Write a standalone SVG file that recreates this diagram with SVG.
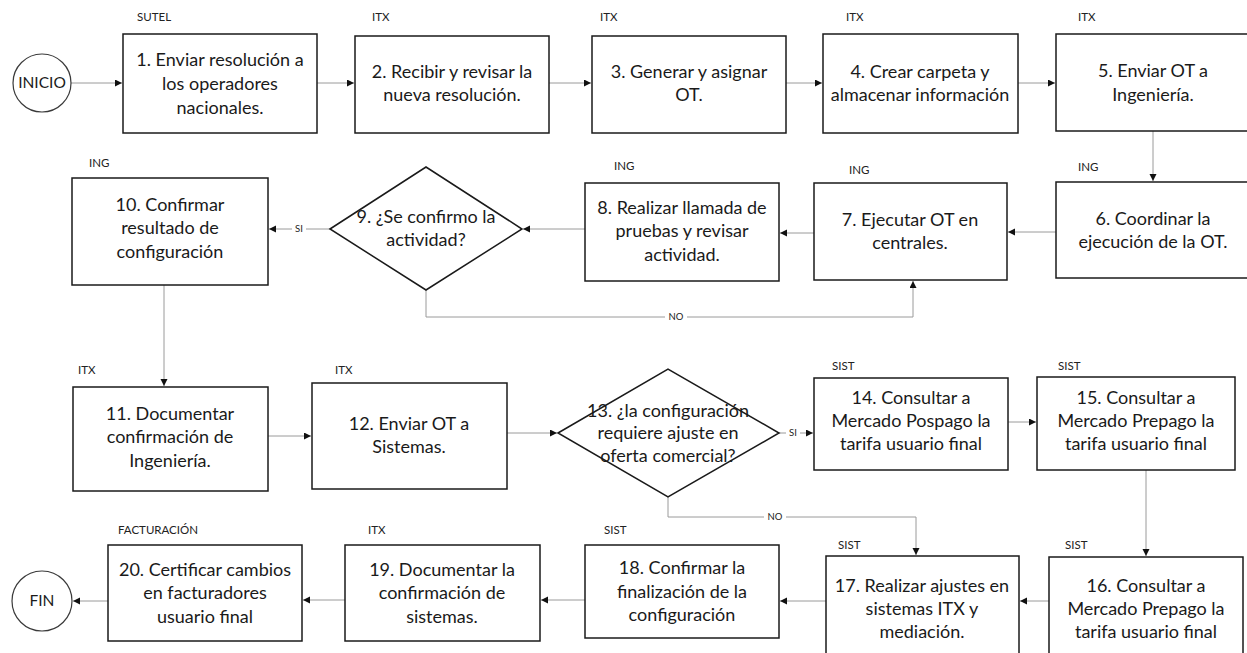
<svg xmlns="http://www.w3.org/2000/svg" width="1247" height="653" viewBox="0 0 1247 653">
  <defs>
    <style>
      .box { fill: #ffffff; stroke: #1a1a1a; stroke-width: 1.5; }
      .term { fill: #ffffff; stroke: #3a3a3a; stroke-width: 1.2; }
      .t { font-family: Lato, "Open Sans", "Liberation Sans", sans-serif; font-size: 18px; fill: #1a1a1a; text-anchor: middle; }
      .tt { font-family: Lato, "Open Sans", "Liberation Sans", sans-serif; font-size: 15.5px; fill: #1a1a1a; text-anchor: middle; }
      .lane { font-family: Lato, "Open Sans", "Liberation Sans", sans-serif; font-size: 11.5px; fill: #222; }
      .edge { fill: none; stroke: #9a9a9a; stroke-width: 1; }
      .elbl { font-family: Lato, "Liberation Sans", sans-serif; font-size: 9.5px; fill: #222; text-anchor: middle; }
      .bg { fill: #ffffff; }
    </style>
    <marker id="arrow" markerUnits="userSpaceOnUse" markerWidth="8" markerHeight="8" refX="7" refY="3.5" orient="auto">
      <path d="M0,0 L7,3.5 L0,7 z" fill="#111"/>
    </marker>
  </defs>

  <rect width="1247" height="653" fill="#ffffff"/>

  <!-- connectors -->
  <g id="connectors">
    <path class="edge" d="M71 83 H122" marker-end="url(#arrow)"/>
    <path class="edge" d="M317 83 H354" marker-end="url(#arrow)"/>
    <path class="edge" d="M549 83 H591" marker-end="url(#arrow)"/>
    <path class="edge" d="M786 83 H822" marker-end="url(#arrow)"/>
    <path class="edge" d="M1018 83 H1055" marker-end="url(#arrow)"/>
    <path class="edge" d="M1153 131 V181" marker-end="url(#arrow)"/>
    <path class="edge" d="M1056 232 H1008" marker-end="url(#arrow)"/>
    <path class="edge" d="M814 233 H780" marker-end="url(#arrow)"/>
    <path class="edge" d="M585 229 H523" marker-end="url(#arrow)"/>
    <path class="edge" d="M330 229 H269" marker-end="url(#arrow)"/>
    <path class="edge" d="M426 290 V317 H913 V281" marker-end="url(#arrow)"/>
    <path class="edge" d="M164 285 V386" marker-end="url(#arrow)"/>
    <path class="edge" d="M268 436 H311" marker-end="url(#arrow)"/>
    <path class="edge" d="M507 433 H557" marker-end="url(#arrow)"/>
    <path class="edge" d="M779 433 H813" marker-end="url(#arrow)"/>
    <path class="edge" d="M1008 422 H1036" marker-end="url(#arrow)"/>
    <path class="edge" d="M1146 470 V556" marker-end="url(#arrow)"/>
    <path class="edge" d="M668 497 V517 H916 V555" marker-end="url(#arrow)"/>
    <path class="edge" d="M1049 601 H1020" marker-end="url(#arrow)"/>
    <path class="edge" d="M826 601 H780" marker-end="url(#arrow)"/>
    <path class="edge" d="M585 600 H541" marker-end="url(#arrow)"/>
    <path class="edge" d="M345 600 H303" marker-end="url(#arrow)"/>
    <path class="edge" d="M108 601 H73" marker-end="url(#arrow)"/>
    <!-- branch labels -->
    <rect class="bg" x="292" y="223" width="14" height="12"/>
    <text class="elbl" x="299" y="232">SI</text>
    <rect class="bg" x="665" y="311" width="22" height="12"/>
    <text class="elbl" x="676" y="320">NO</text>
    <rect class="bg" x="786" y="427" width="14" height="12"/>
    <text class="elbl" x="793" y="436">SI</text>
    <rect class="bg" x="764" y="511" width="22" height="12"/>
    <text class="elbl" x="775" y="520">NO</text>
  </g>

  <g id="inicio">
    <circle class="term" cx="42" cy="83" r="29"/>
    <text class="tt" x="42" y="88">INICIO</text>
  </g>

  <g id="n1">
    <text class="lane" x="137" y="21">SUTEL</text>
    <rect class="box" x="123" y="34" width="194" height="99"/>
    <text class="t" x="220" y="66">1. Enviar resolución a</text>
    <text class="t" x="220" y="90">los operadores</text>
    <text class="t" x="220" y="114">nacionales.</text>
  </g>

  <g id="n2">
    <text class="lane" x="372" y="21">ITX</text>
    <rect class="box" x="355" y="36" width="194" height="97"/>
    <text class="t" x="452" y="78">2. Recibir y revisar la</text>
    <text class="t" x="452" y="101">nueva resolución.</text>
  </g>

  <g id="n3">
    <text class="lane" x="600" y="21">ITX</text>
    <rect class="box" x="592" y="36" width="194" height="97"/>
    <text class="t" x="689" y="78">3. Generar y asignar</text>
    <text class="t" x="689" y="101">OT.</text>
  </g>

  <g id="n4">
    <text class="lane" x="846" y="21">ITX</text>
    <rect class="box" x="823" y="34" width="195" height="99"/>
    <text class="t" x="920" y="78">4. Crear carpeta y</text>
    <text class="t" x="920" y="101">almacenar información</text>
  </g>

  <g id="n5">
    <text class="lane" x="1078" y="21">ITX</text>
    <rect class="box" x="1056" y="34" width="194" height="97"/>
    <text class="t" x="1153" y="77">5. Enviar OT a</text>
    <text class="t" x="1153" y="101">Ingeniería.</text>
  </g>

  <g id="n6">
    <text class="lane" x="1078" y="171">ING</text>
    <rect class="box" x="1056" y="182" width="194" height="96"/>
    <text class="t" x="1153" y="225">6. Coordinar la</text>
    <text class="t" x="1153" y="248">ejecución de la OT.</text>
  </g>

  <g id="n7">
    <text class="lane" x="849" y="174">ING</text>
    <rect class="box" x="814" y="183" width="193" height="97"/>
    <text class="t" x="910" y="226">7. Ejecutar OT en</text>
    <text class="t" x="910" y="249">centrales.</text>
  </g>

  <g id="n8">
    <text class="lane" x="614" y="170">ING</text>
    <rect class="box" x="585" y="183" width="194" height="98"/>
    <text class="t" x="682" y="214">8. Realizar llamada de</text>
    <text class="t" x="682" y="237">pruebas y revisar</text>
    <text class="t" x="682" y="261">actividad.</text>
  </g>

  <g id="n9">
    <polygon class="box" points="330,229 426,167 522,229 426,290"/>
    <text class="t" x="426" y="223">9. ¿Se confirmo la</text>
    <text class="t" x="426" y="246">actividad?</text>
  </g>

  <g id="n10">
    <text class="lane" x="89" y="167">ING</text>
    <rect class="box" x="72" y="178" width="196" height="107"/>
    <text class="t" x="170" y="211">10. Confirmar</text>
    <text class="t" x="170" y="234">resultado de</text>
    <text class="t" x="170" y="258">configuración</text>
  </g>

  <g id="n11">
    <text class="lane" x="78" y="374">ITX</text>
    <rect class="box" x="73" y="387" width="195" height="104"/>
    <text class="t" x="170" y="420">11. Documentar</text>
    <text class="t" x="170" y="443">confirmación de</text>
    <text class="t" x="170" y="467">Ingeniería.</text>
  </g>

  <g id="n12">
    <text class="lane" x="335" y="374">ITX</text>
    <rect class="box" x="312" y="383" width="195" height="106"/>
    <text class="t" x="409" y="430">12. Enviar OT a</text>
    <text class="t" x="409" y="453">Sistemas.</text>
  </g>

  <g id="n13">
    <polygon class="box" points="558,433 668,369 779,433 668,497"/>
    <text class="t" x="668" y="417">13. ¿la configuración</text>
    <text class="t" x="668" y="439">requiere ajuste en</text>
    <text class="t" x="668" y="462">oferta comercial?</text>
  </g>

  <g id="n14">
    <text class="lane" x="832" y="370">SIST</text>
    <rect class="box" x="814" y="378" width="194" height="92"/>
    <text class="t" x="911" y="404">14. Consultar a</text>
    <text class="t" x="911" y="427">Mercado Pospago la</text>
    <text class="t" x="911" y="450">tarifa usuario final</text>
  </g>

  <g id="n15">
    <text class="lane" x="1058" y="370">SIST</text>
    <rect class="box" x="1037" y="377" width="198" height="93"/>
    <text class="t" x="1136" y="404">15. Consultar a</text>
    <text class="t" x="1136" y="427">Mercado Prepago la</text>
    <text class="t" x="1136" y="450">tarifa usuario final</text>
  </g>

  <g id="n16">
    <text class="lane" x="1065" y="549">SIST</text>
    <rect class="box" x="1049" y="557" width="194" height="100"/>
    <text class="t" x="1146" y="592">16. Consultar a</text>
    <text class="t" x="1146" y="615">Mercado Prepago la</text>
    <text class="t" x="1146" y="638">tarifa usuario final</text>
  </g>

  <g id="n17">
    <text class="lane" x="838" y="549">SIST</text>
    <rect class="box" x="826" y="556" width="193" height="100"/>
    <text class="t" x="922" y="592">17. Realizar ajustes en</text>
    <text class="t" x="922" y="615">sistemas ITX y</text>
    <text class="t" x="922" y="638">mediación.</text>
  </g>

  <g id="n18">
    <text class="lane" x="604" y="534">SIST</text>
    <rect class="box" x="585" y="545" width="194" height="93"/>
    <text class="t" x="682" y="574">18. Confirmar la</text>
    <text class="t" x="682" y="598">finalización de la</text>
    <text class="t" x="682" y="621">configuración</text>
  </g>

  <g id="n19">
    <text class="lane" x="368" y="534">ITX</text>
    <rect class="box" x="345" y="545" width="195" height="96"/>
    <text class="t" x="442" y="576">19. Documentar la</text>
    <text class="t" x="442" y="599">confirmación de</text>
    <text class="t" x="442" y="623">sistemas.</text>
  </g>

  <g id="n20">
    <text class="lane" x="118" y="534">FACTURACIÓN</text>
    <rect class="box" x="108" y="545" width="194" height="96"/>
    <text class="t" x="205" y="576">20. Certificar cambios</text>
    <text class="t" x="205" y="599">en facturadores</text>
    <text class="t" x="205" y="623">usuario final</text>
  </g>

  <g id="fin">
    <circle class="term" cx="42" cy="601" r="30"/>
    <text class="tt" x="42" y="606">FIN</text>
  </g>
</svg>
